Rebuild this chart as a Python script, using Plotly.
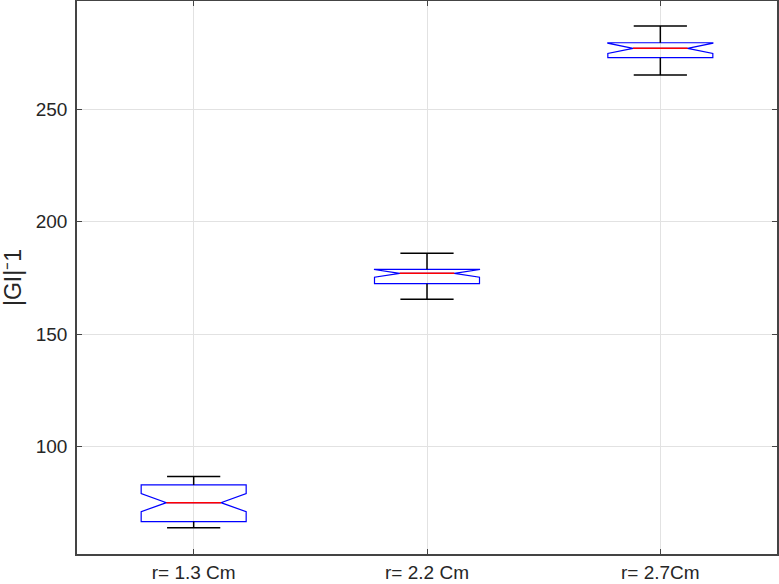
import plotly.graph_objects as go

# ---- data ----
categories = ["r= 1.3 Cm", "r= 2.2 Cm", "r= 2.7Cm"]
positions = [1, 2, 3]
lower_whisker = [64.0, 165.5, 265.1]
q1_vals = [66.7, 172.4, 272.8]
medians = [75.1, 177.0, 276.96]
q3_vals = [83.0, 178.8, 279.45]
upper_whisker = [86.7, 185.9, 286.9]
notch_spans = [4.0, 1.7, 2.3]
y_ticks = [100, 150, 200, 250]

# ---- styles ----
BOX_W = 0.45
NOTCH_W = 0.24
CAP_HALF = 0.114
FONT = "Liberation Sans, Arial, sans-serif"
AXIS_COL = "#444444"
TEXT_COL = "#262626"
GRID_COL = "#e2e2e2"

fig = go.Figure()

# whiskers + caps (black)
wx, wy = [], []
for p, lo, a, b, hi in zip(positions, lower_whisker, q1_vals, q3_vals, upper_whisker):
    wx += [p, p, None, p - CAP_HALF, p + CAP_HALF, None,
           p, p, None, p - CAP_HALF, p + CAP_HALF, None]
    wy += [hi, b, None, hi, hi, None,
           lo, a, None, lo, lo, None]
fig.add_trace(go.Scatter(x=wx, y=wy, mode="lines",
                         line=dict(color="black", width=1.5),
                         hoverinfo="skip", showlegend=False))

# notched boxes (blue)
fig.add_trace(go.Box(
    x=positions, q1=q1_vals, median=medians, q3=q3_vals,
    lowerfence=q1_vals, upperfence=q3_vals, notchspan=notch_spans,
    notched=True, notchwidth=NOTCH_W, width=BOX_W, whiskerwidth=0.0001,
    line=dict(color="#0000ff", width=1.2), fillcolor="rgba(0,0,0,0)",
    boxpoints=False, showlegend=False))

# median lines (red)
half_waist = BOX_W / 2 * (1 - 2 * NOTCH_W)
mx, my = [], []
for p, m in zip(positions, medians):
    mx += [p - half_waist, p + half_waist, None]
    my += [m, m, None]
fig.add_trace(go.Scatter(x=mx, y=my, mode="lines",
                         line=dict(color="#ff0000", width=1.5),
                         hoverinfo="skip", showlegend=False))

fig.update_layout(
    width=779, height=584,
    margin=dict(l=77, r=2, t=1, b=30),
    paper_bgcolor="white", plot_bgcolor="white",
    font=dict(family=FONT, size=19, color=TEXT_COL),
    showlegend=False,
)
fig.update_xaxes(
    range=[0.5, 3.5], tickmode="array", tickvals=positions, ticktext=categories,
    showgrid=True, gridcolor=GRID_COL, gridwidth=1, zeroline=False,
    showline=True, linecolor=AXIS_COL, linewidth=1.5, mirror="ticks",
    ticks="inside", ticklen=5, tickcolor=AXIS_COL, ticklabelstandoff=0,
    automargin=False,
)
fig.update_yaxes(
    range=[52.3, 298], tickmode="array", tickvals=y_ticks,
    showgrid=True, gridcolor=GRID_COL, gridwidth=1, zeroline=False,
    showline=True, linecolor=AXIS_COL, linewidth=1.5, mirror="ticks",
    ticks="inside", ticklen=5, tickcolor=AXIS_COL, ticklabelstandoff=4,
    automargin=False,
    title=dict(text="|GI|⁻1", font=dict(size=23)),
)

fig.write_html("out.html")
